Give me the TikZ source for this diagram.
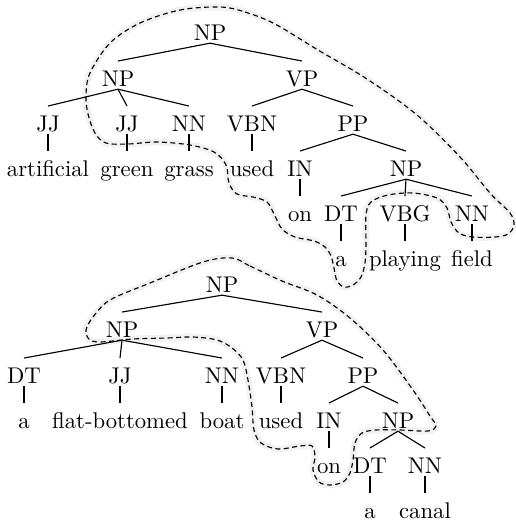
\documentclass[tikz,border=0pt]{standalone}
\begin{document}
\begin{tikzpicture}[x=0.4405pt,y=-0.4405pt,
  t/.style={anchor=base, inner sep=0pt, text height=10.8pt, text depth=1.2pt},
  edge/.style={line width=0.5pt},
  blob/.style={line width=0.5pt, dash pattern=on 2.2pt off 1.5pt,
    preaction={draw=black!5, line width=3pt, solid}}]
\useasboundingbox (0,0) rectangle (516,521);
% ---- selection curves ----
\draw[blob] plot[smooth cycle, tension=0.55] coordinates {
 (220,7) (245,12) (275,24) (318,50) (367,79) (417,115) (460,157) (490,193) (510,213) (514,225) (508,234) (495,237) (473,237) (459,233) (451,222) (447,208) (437,198) (413,193) (388,195) (371,202) (366,215) (366,245) (365,263) (361,277) (353,285) (344,287) (337,281) (334,268) (331,256) (325,247) (314,241) (295,237) (282,229) (274,214) (267,202) (253,197) (237,194) (229,183) (226,165) (214,152) (190,145) (157,142) (128,144) (106,143) (95,133) (88,114) (86,95) (90,73) (110,43) (140,23) (180,10)};
\draw[blob] plot[smooth cycle, tension=0.55] coordinates {
 (232,258) (250,266) (282,281) (317,295) (350,318) (383,350) (413,390) (430,416) (436,426) (428,431) (400,430) (376,430) (362,433) (355,443) (353,460) (350,473) (343,482) (330,485) (319,482) (313,470) (315,457) (312,446) (300,446) (278,449) (261,443) (254,430) (252,407) (248,380) (243,360) (232,348) (217,340) (193,337) (167,338) (133,339) (100,342) (89,339) (86,330) (93,317) (110,300) (150,283) (203,262)};
% ---- tree 1 ----
\node[t] (r1) at (210,40) {NP};
\node[t] (n1) at (118,86) {NP};
\node[t] (v1) at (302,86) {VP};
\node[t] (j1a) at (48,131) {JJ};
\node[t] (j1b) at (127,131) {JJ};
\node[t] (nn1) at (189,131) {NN};
\node[t] (vbn1) at (252,131) {VBN};
\node[t] (pp1) at (353,131) {PP};
\node[t] (w1a) at (48,176) {artificial};
\node[t] (w1b) at (127,176) {green};
\node[t] (w1c) at (189,176) {grass};
\node[t] (w1d) at (252,176) {used};
\node[t] (in1) at (300,176) {IN};
\node[t] (np1) at (406,176) {NP};
\node[t] (w1e) at (300,221) {on};
\node[t] (dt1) at (341,221) {DT};
\node[t] (vbg1) at (405,221) {VBG};
\node[t] (nn1b) at (472,221) {NN};
\node[t] (w1f) at (341,266) {a};
\node[t] (w1g) at (405,266) {playing};
\node[t] (w1h) at (472,266) {field};
\foreach \p/\c in {r1/n1, r1/v1, n1/j1a, n1/j1b, n1/nn1, v1/vbn1, v1/pp1,
  j1a/w1a, j1b/w1b, nn1/w1c, vbn1/w1d, pp1/in1, pp1/np1, in1/w1e,
  np1/dt1, np1/vbg1, np1/nn1b, dt1/w1f, vbg1/w1g, nn1b/w1h}
  \draw[edge] (\p.south) -- (\c.north);
% ---- tree 2 ----
\node[t] (r2) at (222,292) {NP};
\node[t] (n2) at (122,337) {NP};
\node[t] (v2) at (322,337) {VP};
\node[t] (dt2) at (24,383) {DT};
\node[t] (jj2) at (120,383) {JJ};
\node[t] (nn2) at (222,383) {NN};
\node[t] (vbn2) at (281,383) {VBN};
\node[t] (pp2) at (363,383) {PP};
\node[t] (w2a) at (24,428) {a};
\node[t] (w2b) at (120,428) {flat-bottomed};
\node[t] (w2c) at (222,428) {boat};
\node[t] (w2d) at (281,428) {used};
\node[t] (in2) at (329,428) {IN};
\node[t] (np2) at (398,428) {NP};
\node[t] (w2e) at (329,473) {on};
\node[t] (dt2b) at (370,473) {DT};
\node[t] (nn2b) at (425,473) {NN};
\node[t] (w2f) at (370,518) {a};
\node[t] (w2g) at (425,518) {canal};
\foreach \p/\c in {r2/n2, r2/v2, n2/dt2, n2/jj2, n2/nn2, v2/vbn2, v2/pp2,
  dt2/w2a, jj2/w2b, nn2/w2c, vbn2/w2d, pp2/in2, pp2/np2, in2/w2e,
  np2/dt2b, np2/nn2b, dt2b/w2f, nn2b/w2g}
  \draw[edge] (\p.south) -- (\c.north);
\end{tikzpicture}
\end{document}
